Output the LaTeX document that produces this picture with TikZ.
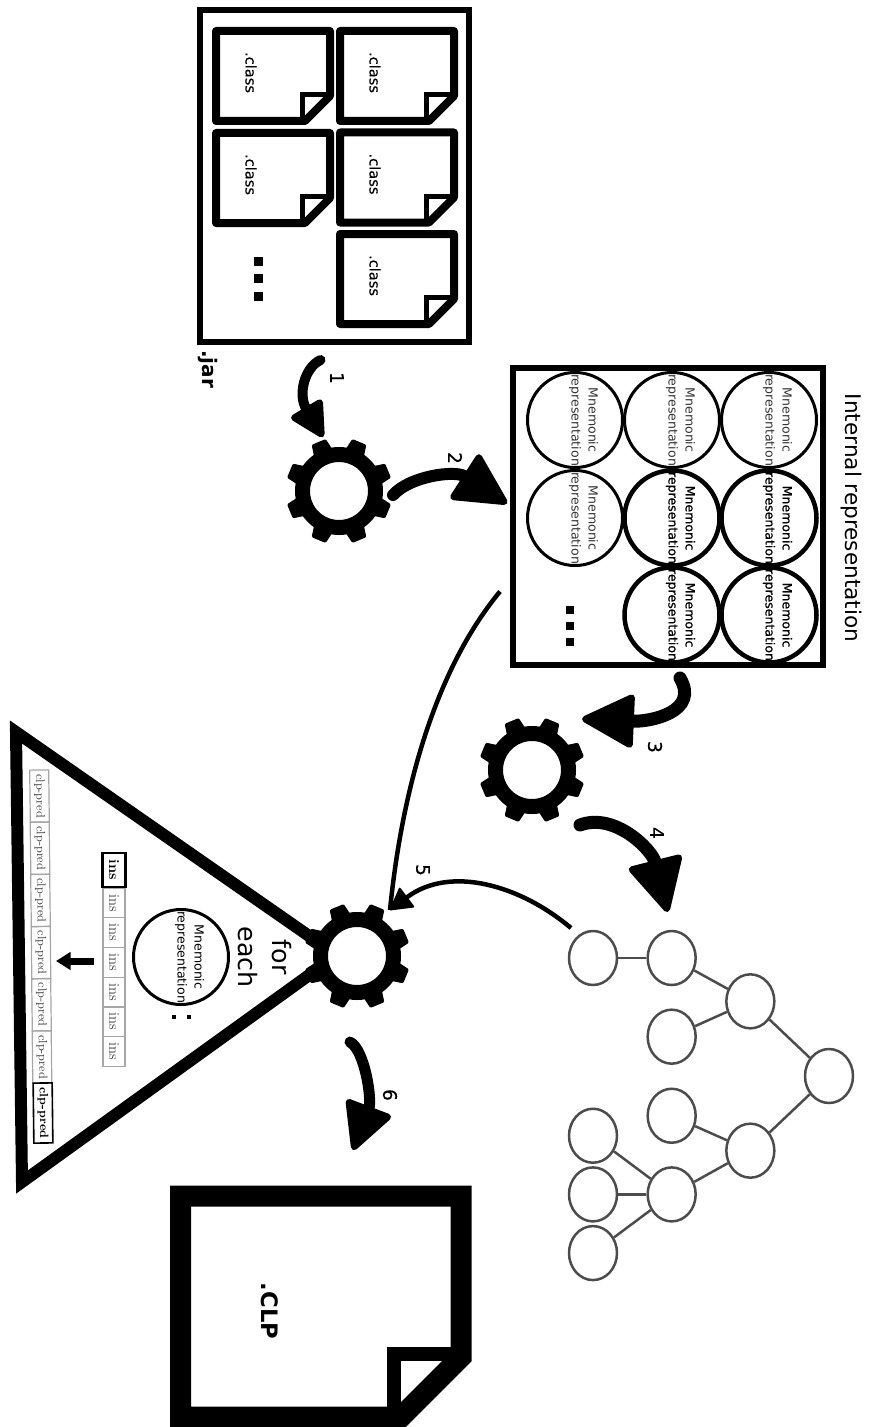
\documentclass[tikz,border=0pt]{standalone}
\usepackage{fontspec}
\usetikzlibrary{arrows.meta,shapes.geometric}
\newfontfamily\sansbody{DejaVu Sans}
\newfontfamily\sansheavy[FakeBold=0.6]{DejaVu Sans}
\newfontfamily\sansmedium[FakeBold=0.25]{DejaVu Sans}
\newlength{\pxu}
\setlength{\pxu}{.75pt}
\newcommand{\gearteeth}[1]{%
  \foreach \a in {22.5,67.5,...,337.5}
    \filldraw[line width=3\pxu,line join=round] ([shift={(\a-12:41)}]#1.center) -- ([shift={(\a-7:52)}]#1.center)
      -- ([shift={(\a+7:52)}]#1.center) -- ([shift={(\a+12:41)}]#1.center) -- cycle;
}
\tikzset{
  turned/.style={rotate=-90,inner sep=0pt},
  boxline/.style={draw,line width=6\pxu,inner sep=0pt},
  classtext/.style={turned,font=\sansmedium\fontsize{11}{13}\selectfont},
  steptext/.style={turned,font=\sansmedium\fontsize{14}{16}\selectfont},
  dotbox/.style={fill,inner sep=0pt,minimum size=8.5\pxu},
  gearbody/.style={circle,draw,fill=white,line width=15\pxu,inner sep=0pt,minimum size=73\pxu},
  mnemolight/.style={circle,draw,line width=3\pxu,inner sep=0pt,minimum size=95\pxu},
  mnemoheavy/.style={mnemolight,line width=4.5\pxu},
  mnemolighttext/.style={turned,align=center,text=black!80,font=\sansbody\fontsize{9.4}{12.8}\selectfont},
  mnemoheavytext/.style={turned,align=center,font=\sansheavy\fontsize{9.4}{12.8}\selectfont},
  treenode/.style={ellipse,draw=black!70,line width=2.5\pxu,inner sep=0pt,minimum width=48\pxu,minimum height=54\pxu},
  fatarrow/.style n args={3}{draw,line width=#1\pxu,line cap=round,
    -{Triangle[length=#2pt,width=#3pt,line width=5pt,round]}},
  slimarrow/.style={draw,line width=4.5\pxu,
    -{Triangle[length=17pt,width=19pt,line width=1.5pt,round]}},
  inscell/.style={turned,draw=black!35,line width=1.2\pxu,text=black!75,
    minimum width=29.7\pxu,minimum height=22\pxu,font=\fontsize{11}{13}\selectfont},
  clpcell/.style={turned,rotate=.7,draw=black!35,line width=1.2\pxu,text=black!75,
    minimum width=52\pxu,minimum height=19\pxu,font=\fontsize{9}{11}\selectfont},
  classpage/.pic={
    \draw[line width=8\pxu,line join=round,fill=white] (-57,-45) -- (57,-45) -- (57,20) -- (32,45) -- (-57,45) -- cycle;
    \draw[line width=5\pxu] (29,47) -- (29,18.5) -- (59,18.5);
    \node[classtext] (-label) at (-22,-3.5) {.class};
  }
}
\begin{document}
\begin{tikzpicture}[x=.75pt,y=-.75pt]
\useasboundingbox (0,0) rectangle (870,1427);

\node[boxline,minimum width=269\pxu,minimum height=332\pxu] (jarbox) at (334.5,176) {};
\pic (pa) at (397,76) {classpage};
\pic (pb) at (397,177.5) {classpage};
\pic (pc) at (397,279) {classpage};
\pic (pd) at (273,76) {classpage};
\pic (pe) at (273,178) {classpage};
\foreach \y in {261,278,296}
  \node[dotbox,minimum size=9\pxu] (jd\y) at (258,\y) {};
\node[turned,font=\sansbody\bfseries\fontsize{15}{17}\selectfont] (jarname) at (208,369) {.jar};

\node[boxline,minimum width=310\pxu,minimum height=297\pxu] (irbox) at (668,516.5) {};
\foreach \nm/\x/\y/\sty in {aa/769/420/mnemolight,ab/672/420/mnemolight,ac/575/420/mnemolight,
    ba/769/518/mnemoheavy,bb/672/518/mnemoheavy,bc/575/518/mnemolight,
    ca/769/615/mnemoheavy,cb/672/615/mnemoheavy}{
  \node[\sty] (mn\nm) at (\x,\y) {};
  \node[\sty text] (mt\nm) at ([xshift=6.4pt]mn\nm.center) {Mnemonic\\representation};
}
\foreach \y in {610,626,642}
  \node[dotbox] (id\y) at (570,\y) {};
\node[turned,font=\sansbody\fontsize{16.2}{18}\selectfont] (irname) at (851,518) {Internal representation};

\node[treenode] (troot) at (829,1076) {}
  [grow=left,level distance=59pt,
   edge from parent/.style={draw=black!70,line width=2.5\pxu},
   level 1/.style={sibling distance=112pt},
   level 2/.style={sibling distance=59pt},
   level 3/.style={sibling distance=44pt}]
  child {
    node[treenode] (ta) {}
    child[yshift=3pt] {
      node[treenode] (taa) {}
      child { node[treenode] (taaa) {} }
    }
    child[yshift=3pt] {
      node[treenode] (tab) {}
    }
  }
  child {
    node[treenode] (tb) {}
    child[yshift=-3.3pt] {
      node[treenode] (tba) {}
    }
    child[yshift=-3.3pt] {
      node[treenode] (tbb) {}
      child { node[treenode] (tbba) {} }
      child { node[treenode] (tbbb) {} }
      child { node[treenode] (tbbc) {} }
    }
  };

\draw[line width=12\pxu] (312,938) -- (16,732) -- (22,1182) -- (312,973);
\foreach \i in {0,...,5}
  \node[clpcell] (clp\i) at ({39.5+.5*\i},{796+52.2*\i}) {clp-pred};
\node[clpcell,draw=black,line width=1.6\pxu,minimum width=60\pxu,text=black,font=\bfseries\fontsize{9}{11}\selectfont] (clplast) at (43,1113) {clp-pred};
\node[inscell,draw=black,line width=2.2\pxu,minimum width=34\pxu,minimum height=23\pxu,text=black,font=\bfseries\fontsize{11}{13}\selectfont] (insfirst) at (114,870) {ins};
\foreach \i in {0,...,5}
  \node[inscell] (ins\i) at (114,{903+29.7*\i}) {ins};
\coordinate (movefrom) at (94,961);
\coordinate (moveto) at (56,961);
\draw[line width=7\pxu,-{Triangle[length=11pt,width=13pt]}] (movefrom) -- (moveto);
\node[mnemolight] (mnloop) at (181,957) {};
\node[mnemolighttext,text=black] (mtloop) at ([xshift=6.4pt]mnloop.center) {Mnemonic\\representation};
\node[dotbox,minimum size=4.5\pxu] (ld1) at (174,1017) {};
\node[dotbox,minimum size=4.5\pxu] (ld2) at (189,1017) {};
\node[turned,align=center,font=\sansbody\fontsize{19}{26}\selectfont] (forname) at (265,957) {for\\each};

\foreach \g/\x/\y in {gear1/339/491,gear2/532/770,gear3/357/956}{
  \node[gearbody] (\g) at (\x,\y) {};
  \gearteeth{\g}
}

\draw[line width=21\pxu,fill=white] (180.5,1196) -- (461,1196) -- (461,1357) -- (401,1417) -- (180.5,1417) -- cycle;
\draw[line width=14\pxu,miter limit=2] (394,1412) -- (394,1354) -- (455,1354);
\node[turned,font=\sansbody\bfseries\fontsize{17}{19}\selectfont] (clpname) at (270,1311) {.CLP};

\draw[fatarrow={10}{29}{29}] ([shift={(-14,15)}]jarbox.south) .. controls (304,368) and (298,395) .. ([shift={(-16,-54)}]gear1.center);
\node[steptext] (stepa) at (337,378) {1};
\draw[fatarrow={12}{42}{42}] ([shift={(54,4)}]gear1.center) .. controls (410,476) and (455,470) .. ([shift={(-3,-13)}]irbox.west);
\node[steptext] (stepb) at (455,458) {2};
\draw[fatarrow={13}{42}{42}] ([shift={(12,10)}]irbox.south) .. controls (700,712) and (650,722) .. ([shift={(50,-51)}]gear2.center);
\node[steptext] (stepc) at (655,747) {3};
\draw[fatarrow={13}{43}{43}] ([shift={(48,55)}]gear2.center) .. controls (615,812) and (652,850) .. ([shift={(-4,-46)}]taa.center);
\node[steptext] (stepd) at (657,833) {4};
\draw[line width=4.5\pxu] ([shift={(-10,75)}]irbox.west) .. controls (435,670) and (402,790) .. ([shift={(33,-46)}]gear3.center);
\draw[slimarrow] ([shift={(-22,-30)}]taaa.center) .. controls (520,885) and (450,865) .. ([shift={(33,-46)}]gear3.center);
\node[steptext] (stepe) at (423,870) {5};
\draw[fatarrow={11}{38}{38}] ([shift={(-7,86)}]gear3.center) .. controls (365,1050) and (372,1100) .. ([shift={(83,-161)}]clpname.center);
\node[steptext] (stepf) at (390,1095) {6};
\end{tikzpicture}
\end{document}
